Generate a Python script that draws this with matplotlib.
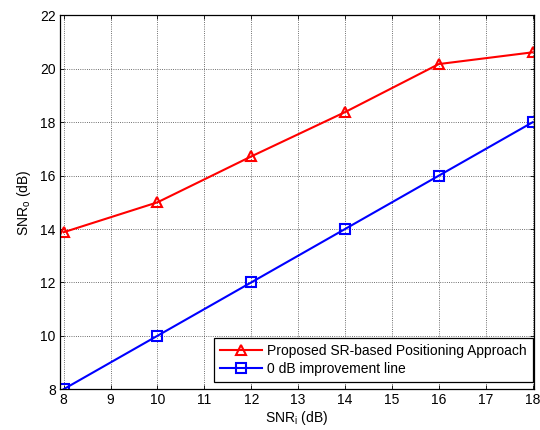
import matplotlib
matplotlib.use('Agg')
import matplotlib.pyplot as plt

snr_in = [8, 10, 12, 14, 16, 18]
snr_proposed = [13.88, 15.0, 16.72, 18.38, 20.18, 20.62]
snr_baseline = [8, 10, 12, 14, 16, 18]
xticks = [8, 9, 10, 11, 12, 13, 14, 15, 16, 17, 18]
yticks = [8, 10, 12, 14, 16, 18, 20, 22]

plt.rcParams['font.family'] = ['Liberation Sans', 'DejaVu Sans']
plt.rcParams['mathtext.default'] = 'regular'
plt.rcParams['font.size'] = 10

fig = plt.figure(figsize=(5.4, 4.3), dpi=100)
ax = fig.add_axes([0.111, 0.095, 0.878, 0.869])

ax.plot(snr_in, snr_proposed, color='red', lw=1.5, marker='^', ms=7.5,
        mfc='none', mec='red', mew=1.5, label='Proposed SR-based Positioning Approach')
ax.plot(snr_in, snr_baseline, color='blue', lw=1.5, marker='s', ms=7,
        mfc='none', mec='blue', mew=1.5, label='0 dB improvement line')

ax.set_xlim(7.92, 18.03)
ax.set_ylim(8, 22)
ax.set_xticks(xticks)
ax.set_yticks(yticks)
ax.grid(True, color='#404040', linestyle=':', linewidth=0.6)
ax.tick_params(direction='in', top=True, right=True, length=3, width=0.6,
               colors='black', pad=3)
for s in ax.spines.values():
    s.set_linewidth(0.9)

ax.set_xlabel('SNR$_i$ (dB)', labelpad=1)
ax.set_ylabel('SNR$_o$ (dB)', labelpad=5)

leg = ax.legend(loc='lower right', bbox_to_anchor=(0.998, 0.018), fontsize=10,
                fancybox=False, edgecolor='black', framealpha=1, borderpad=0.45,
                handlelength=3.0, labelspacing=0.3, handletextpad=0.4, borderaxespad=0)
leg.get_frame().set_linewidth(0.9)

fig.savefig('out.png', dpi=100)
